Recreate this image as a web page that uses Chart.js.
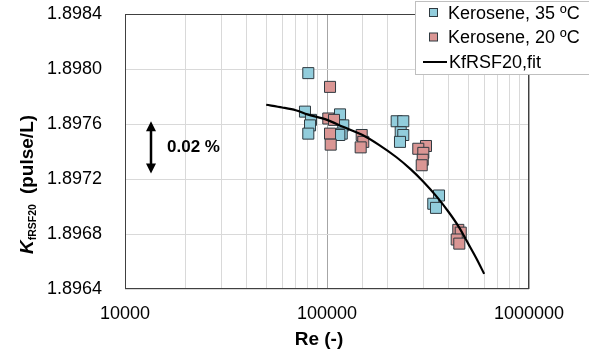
<!DOCTYPE html>
<html>
<head>
<meta charset="utf-8">
<script src="https://cdn.jsdelivr.net/npm/chart.js@4.4.1/dist/chart.umd.min.js"></script>
<style>
  html, body { margin: 0; padding: 0; background: #ffffff; }
  #wrap { width: 589px; height: 355px; position: relative; }
</style>
</head>
<body>
<div id="wrap"><canvas id="c" width="589" height="355"></canvas></div>
<script>
// ---- Data ----
const seriesNames = ['Kerosene, 35 ºC', 'Kerosene, 20 ºC', 'KfRSF20,fit'];

// Kerosene, 35 ºC : Reynolds number and K-factor
const re35 = [80800, 77800, 83300, 82400, 80800, 116000, 120400, 118300, 115100,
              221300, 238600, 231700, 238600, 229800, 358500, 335900, 346400];
const k35  = [1.89797, 1.89769, 1.89763, 1.89759, 1.89753, 1.89767, 1.89759, 1.89753, 1.89752,
              1.89762, 1.89762, 1.89754, 1.89752, 1.89747, 1.89708, 1.89702, 1.89699];

// Kerosene, 20 ºC
const re20 = [103500, 101500, 108300, 103500, 104300, 148500, 151200, 146800,
              309100, 283100, 299800, 297800, 294400, 446700, 459200, 438600, 451800];
const k20  = [1.89787, 1.89764, 1.89763, 1.89753, 1.89745, 1.89752, 1.89747, 1.89743,
              1.89744, 1.89742, 1.89739, 1.89734, 1.89730, 1.89683, 1.89681, 1.89676, 1.89673];

// Fit curve
const reFit = [50000, 60000, 70000, 80000, 100000, 120000, 150000, 180000, 220000,
               260000, 300000, 350000, 400000, 450000, 500000, 550000, 600000];
const kFit  = [1.89774, 1.89772, 1.89770, 1.89767, 1.89763, 1.89758, 1.89752, 1.89745, 1.89736,
               1.89727, 1.89718, 1.89707, 1.89696, 1.89685, 1.89673, 1.89662, 1.89651];

// Axis ticks
const xTickDecades = [10000, 100000, 1000000];
const yTickValues = [1.8964, 1.8968, 1.8972, 1.8976, 1.8980, 1.8984];

// Annotation (0.02 % span)
const annotRe = 13450;
const annotTop = 1.89762;
const annotBottom = 1.89724;
const annotLabel = '0.02 %';

const xTitle = 'Re (-)';
const yTitleMain = 'K';
const yTitleSub = 'fRSF20';
const yTitleRest = '(pulse/L)';

// ---- Styling ----
const FONT = "'Liberation Sans', Arial, sans-serif";
const BLUE = '#92CDDC';
const RED = '#DA9694';
const EDGE = '#2f3a40';

const toPts = (xs, ys) => xs.map((x, i) => ({ x: x, y: ys[i] }));

const decorPlugin = {
  id: 'decor',
  afterDatasetsDraw(chart) {
    const ctx = chart.ctx;
    const a = chart.chartArea;
    const xs = chart.scales.x, ys = chart.scales.y;
    ctx.save();
    // plot frame
    ctx.strokeStyle = '#404040';
    ctx.lineWidth = 1;
    ctx.strokeRect(Math.round(a.left) + 0.5, Math.round(a.top) + 0.5,
                   Math.round(a.right - a.left) - 1, Math.round(a.bottom - a.top) - 1);

    // annotation double arrow
    const ax = xs.getPixelForValue(annotRe);
    const y1 = ys.getPixelForValue(annotTop);
    const y2 = ys.getPixelForValue(annotBottom);
    ctx.strokeStyle = '#000';
    ctx.fillStyle = '#000';
    ctx.lineWidth = 2.5;
    ctx.beginPath();
    ctx.moveTo(ax, y1 + 8);
    ctx.lineTo(ax, y2 - 8);
    ctx.stroke();
    ctx.beginPath();
    ctx.moveTo(ax, y1); ctx.lineTo(ax - 5, y1 + 10); ctx.lineTo(ax + 5, y1 + 10); ctx.closePath();
    ctx.fill();
    ctx.beginPath();
    ctx.moveTo(ax, y2); ctx.lineTo(ax - 5, y2 - 10); ctx.lineTo(ax + 5, y2 - 10); ctx.closePath();
    ctx.fill();
    ctx.font = 'bold 17px ' + FONT;
    ctx.textAlign = 'left';
    ctx.textBaseline = 'middle';
    ctx.fillText(annotLabel, ax + 16, (y1 + y2) / 2);
    ctx.restore();
  },
  afterDraw(chart) {
    const ctx = chart.ctx;
    const a = chart.chartArea;
    ctx.save();
    // x title
    ctx.fillStyle = '#000';
    ctx.font = 'bold 19px ' + FONT;
    ctx.textAlign = 'center';
    ctx.textBaseline = 'alphabetic';
    ctx.fillText(xTitle, (a.left + a.right) / 2 - 8, 345);

    // y title (rotated, with subscript)
    ctx.translate(33, 254);
    ctx.rotate(-Math.PI / 2);
    ctx.textAlign = 'left';
    let x = 0;
    ctx.font = 'italic bold 19px ' + FONT;
    ctx.fillText(yTitleMain, x, 0);
    x += ctx.measureText(yTitleMain).width;
    ctx.font = 'bold 10.5px ' + FONT;
    ctx.fillText(yTitleSub, x, 3);
    x += ctx.measureText(yTitleSub).width + 10;
    ctx.font = 'bold 19px ' + FONT;
    ctx.fillText(yTitleRest, x, 0);
    ctx.restore();

    // legend
    ctx.save();
    const lx = 415.5, ly = 1.5, lw = 200, lh = 73;
    ctx.fillStyle = '#ffffff';
    ctx.fillRect(lx, ly, lw, lh);
    ctx.strokeStyle = '#bfbfbf';
    ctx.lineWidth = 1;
    ctx.strokeRect(lx, ly, lw, lh);
    const rows = [13, 37.5, 62];
    const ds = chart.data.datasets;
    ctx.font = '18px ' + FONT;
    ctx.textBaseline = 'middle';
    ctx.textAlign = 'left';
    for (let i = 0; i < 3; i++) {
      const y = rows[i];
      if (i < 2) {
        ctx.fillStyle = ds[i].backgroundColor;
        ctx.strokeStyle = EDGE;
        ctx.lineWidth = 1;
        ctx.fillRect(429.5, y - 4.5, 8, 8);
        ctx.strokeRect(429.5, y - 4.5, 8, 8);
        ctx.fillStyle = '#000';
        ctx.fillText(ds[i].label, 448, y + 1);
      } else {
        ctx.strokeStyle = '#000';
        ctx.lineWidth = 2;
        ctx.beginPath();
        ctx.moveTo(423, y); ctx.lineTo(447, y);
        ctx.stroke();
        ctx.fillStyle = '#000';
        ctx.fillText(ds[i].label, 449, y + 1);
      }
    }
    ctx.restore();
  }
};

function zeroPad(s) { s.paddingTop = 0; s.paddingBottom = 0; s.paddingLeft = 0; s.paddingRight = 0; }

new Chart(document.getElementById('c'), {
  type: 'scatter',
  data: {
    datasets: [
      {
        label: seriesNames[0],
        data: toPts(re35, k35),
        backgroundColor: BLUE,
        borderColor: EDGE,
        borderWidth: 1,
        pointStyle: 'rect',
        pointRadius: 7.8,
        order: 2
      },
      {
        label: seriesNames[1],
        data: toPts(re20, k20),
        backgroundColor: RED,
        borderColor: EDGE,
        borderWidth: 1,
        pointStyle: 'rect',
        pointRadius: 7.8,
        order: 1
      },
      {
        label: seriesNames[2],
        data: toPts(reFit, kFit),
        showLine: true,
        borderColor: '#000',
        backgroundColor: '#000',
        borderWidth: 2.2,
        pointRadius: 0,
        tension: 0.3,
        order: 0
      }
    ]
  },
  options: {
    responsive: false,
    animation: false,
    devicePixelRatio: 1,
    layout: { padding: { top: 14, right: 60, left: 0, bottom: 0 } },
    plugins: {
      legend: { display: false },
      tooltip: { enabled: false }
    },
    scales: {
      x: {
        type: 'logarithmic',
        min: 10000,
        max: 1000000,
        afterFit(s) { s.height = 66; zeroPad(s); },
        grid: {
          drawTicks: false,
          color: (c) => {
            const v = c.tick && c.tick.value;
            if (v && xTickDecades.includes(v)) return '#a6a6a6';
            return '#d9d9d9';
          },
          lineWidth: 1
        },
        border: { display: false },
        ticks: {
          autoSkip: false,
          maxRotation: 0,
          padding: 14,
          color: '#000',
          font: { family: FONT, size: 18 },
          callback: (v) => xTickDecades.includes(v) ? String(v) : ''
        }
      },
      y: {
        type: 'linear',
        min: yTickValues[0],
        max: yTickValues[yTickValues.length - 1],
        afterFit(s) { s.width = 125; zeroPad(s); },
        afterBuildTicks(s) { s.ticks = yTickValues.map(v => ({ value: v })); },
        grid: { drawTicks: false, color: '#d9d9d9', lineWidth: 1 },
        border: { display: false },
        ticks: {
          padding: 23,
          color: '#000',
          font: { family: FONT, size: 18 },
          callback: (v) => Number(v).toFixed(4)
        }
      }
    }
  },
  plugins: [decorPlugin]
});
</script>
</body>
</html>
